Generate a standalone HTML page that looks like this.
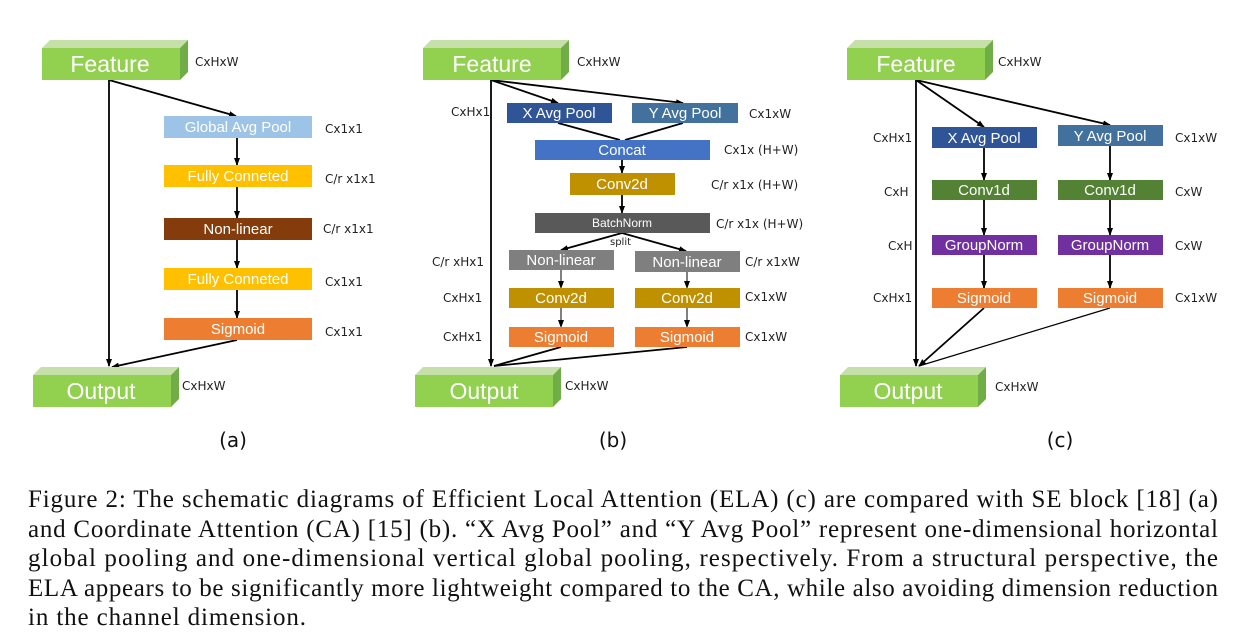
<!DOCTYPE html>
<html><head><meta charset="utf-8"><style>
html,body{margin:0;padding:0;background:#fff;}
svg{display:block;}
.lb{font-family:"DejaVu Sans","Liberation Sans",sans-serif;font-size:12px;fill:#222;}
.bx{font-family:"Liberation Sans","DejaVu Sans",sans-serif;font-size:15px;fill:#fff;text-anchor:middle;}
.big{font-family:"Liberation Sans","DejaVu Sans",sans-serif;font-size:23px;fill:#fff;text-anchor:middle;}
.cap{font-family:"Liberation Serif",serif;font-size:25px;fill:#111;}
.sub{font-family:"DejaVu Sans","Liberation Sans",sans-serif;font-size:20px;fill:#111;text-anchor:middle;}
</style></head><body>
<svg width="1246" height="641" viewBox="0 0 1246 641" xmlns="http://www.w3.org/2000/svg">
<defs>
<marker id="a" markerWidth="8" markerHeight="8" refX="7" refY="4" orient="auto" markerUnits="userSpaceOnUse"><path d="M0,1 L8,4 L0,7 z" fill="#000"/></marker>
<g id="feat"><rect x="0" y="8" width="138" height="32" fill="#92d050"/><path d="M0,8 L8,0 L146,0 L138,8 z" fill="#c5e0a8"/><path d="M138,8 L146,0 L146,32 L138,40 z" fill="#70ad47"/></g>
</defs>
<g stroke="#000" stroke-width="1.8" fill="none">
<line x1="109" y1="80" x2="109" y2="366" marker-end="url(#a)"/>
<line x1="109" y1="80" x2="236" y2="116" marker-end="url(#a)"/>
<line x1="237" y1="340" x2="112" y2="367" marker-end="url(#a)"/>
<line x1="237" y1="138" x2="237" y2="165" marker-end="url(#a)"/>
<line x1="237" y1="187" x2="237" y2="218" marker-end="url(#a)"/>
<line x1="237" y1="240" x2="237" y2="268" marker-end="url(#a)"/>
<line x1="237" y1="290" x2="237" y2="318" marker-end="url(#a)"/>
<line x1="491" y1="80" x2="491" y2="366" marker-end="url(#a)"/>
<line x1="491" y1="80" x2="558" y2="103" marker-end="url(#a)"/>
<line x1="491" y1="80" x2="683" y2="103" marker-end="url(#a)"/>
<line x1="558" y1="123" x2="620" y2="140"/>
<line x1="683" y1="123" x2="625" y2="140"/>
<line x1="622" y1="160" x2="622" y2="173" marker-end="url(#a)"/>
<line x1="622" y1="195" x2="622" y2="213" marker-end="url(#a)"/>
<line x1="622" y1="233" x2="561" y2="250" marker-end="url(#a)"/>
<line x1="622" y1="233" x2="686" y2="251" marker-end="url(#a)"/>
<line x1="561" y1="270" x2="561" y2="288" marker-end="url(#a)" stroke-width="1"/>
<line x1="687" y1="272" x2="687" y2="288" marker-end="url(#a)" stroke-width="1"/>
<line x1="561" y1="308" x2="561" y2="327" marker-end="url(#a)" stroke-width="1"/>
<line x1="687" y1="308" x2="687" y2="327" marker-end="url(#a)" stroke-width="1"/>
<line x1="561" y1="347" x2="494" y2="366"/>
<line x1="687" y1="347" x2="494" y2="366"/>
<line x1="916" y1="80" x2="916" y2="366" marker-end="url(#a)"/>
<line x1="916" y1="80" x2="984" y2="127" marker-end="url(#a)"/>
<line x1="916" y1="80" x2="1110" y2="125" marker-end="url(#a)"/>
<line x1="984" y1="148" x2="984" y2="180" marker-end="url(#a)"/>
<line x1="1110" y1="146" x2="1110" y2="180" marker-end="url(#a)"/>
<line x1="984" y1="200" x2="984" y2="235" marker-end="url(#a)"/>
<line x1="1110" y1="200" x2="1110" y2="235" marker-end="url(#a)"/>
<line x1="984" y1="255" x2="984" y2="288" marker-end="url(#a)"/>
<line x1="1110" y1="255" x2="1110" y2="288" marker-end="url(#a)"/>
<line x1="984" y1="308" x2="919" y2="366" marker-end="url(#a)"/>
<line x1="1110" y1="308" x2="919" y2="366" stroke-width="1.2"/>
</g>
<use href="#feat" x="42" y="40"/><text class="big" x="110" y="72">Feature</text>
<use href="#feat" x="33" y="367"/><text class="big" x="101" y="399">Output</text>
<use href="#feat" x="423" y="40"/><text class="big" x="492" y="72">Feature</text>
<use href="#feat" x="415" y="367"/><text class="big" x="484" y="399">Output</text>
<use href="#feat" x="847" y="40"/><text class="big" x="916" y="72">Feature</text>
<use href="#feat" x="840" y="367"/><text class="big" x="908" y="399">Output</text>
<rect x="164" y="116" width="148" height="22" fill="#9dc3e6"/><text class="bx" x="238" y="132">Global Avg Pool</text>
<rect x="164" y="165" width="148" height="22" fill="#ffc000"/><text class="bx" x="238" y="181">Fully Conneted</text>
<rect x="164" y="218" width="148" height="22" fill="#843c0c"/><text class="bx" x="238" y="234">Non-linear</text>
<rect x="164" y="268" width="148" height="22" fill="#ffc000"/><text class="bx" x="238" y="284">Fully Conneted</text>
<rect x="164" y="318" width="148" height="22" fill="#ed7d31"/><text class="bx" x="238" y="334">Sigmoid</text>
<text class="lb" x="195" y="66">CxHxW</text>
<text class="lb" x="325" y="133">Cx1x1</text>
<text class="lb" x="325" y="183">C/r x1x1</text>
<text class="lb" x="323" y="233">C/r x1x1</text>
<text class="lb" x="325" y="286">Cx1x1</text>
<text class="lb" x="325" y="336">Cx1x1</text>
<text class="lb" x="182" y="390">CxHxW</text>
<rect x="507" y="103" width="105" height="20" fill="#2f5597"/><text class="bx" x="559" y="118">X Avg Pool</text>
<rect x="632" y="103" width="106" height="20" fill="#41719c"/><text class="bx" x="685" y="118">Y Avg Pool</text>
<rect x="535" y="140" width="175" height="20" fill="#4472c4"/><text class="bx" x="622" y="155">Concat</text>
<rect x="570" y="173" width="105" height="22" fill="#bf9000"/><text class="bx" x="622" y="189">Conv2d</text>
<rect x="535" y="213" width="175" height="20" fill="#595959"/><text class="bx" x="622" y="227" style="font-size:12px">BatchNorm</text>
<text class="lb" x="610" y="245" style="font-size:10px">split</text>
<rect x="509" y="250" width="105" height="20" fill="#7f7f7f"/><text class="bx" x="561" y="265">Non-linear</text>
<rect x="635" y="251" width="105" height="21" fill="#7f7f7f"/><text class="bx" x="687" y="267">Non-linear</text>
<rect x="509" y="288" width="105" height="20" fill="#bf9000"/><text class="bx" x="561" y="303">Conv2d</text>
<rect x="635" y="288" width="105" height="20" fill="#bf9000"/><text class="bx" x="687" y="303">Conv2d</text>
<rect x="509" y="327" width="105" height="20" fill="#ed7d31"/><text class="bx" x="561" y="342">Sigmoid</text>
<rect x="635" y="327" width="105" height="20" fill="#ed7d31"/><text class="bx" x="687" y="342">Sigmoid</text>
<text class="lb" x="577" y="66">CxHxW</text>
<text class="lb" x="451" y="116">CxHx1</text>
<text class="lb" x="749" y="118">Cx1xW</text>
<text class="lb" x="724" y="154">Cx1x (H+W)</text>
<text class="lb" x="711" y="189">C/r x1x (H+W)</text>
<text class="lb" x="716" y="228">C/r x1x (H+W)</text>
<text class="lb" x="432" y="266">C/r xHx1</text>
<text class="lb" x="745" y="266">C/r x1xW</text>
<text class="lb" x="443" y="302">CxHx1</text>
<text class="lb" x="745" y="301">Cx1xW</text>
<text class="lb" x="443" y="341">CxHx1</text>
<text class="lb" x="745" y="341">Cx1xW</text>
<text class="lb" x="565" y="390">CxHxW</text>
<rect x="932" y="127" width="105" height="21" fill="#2f5597"/><text class="bx" x="984" y="143">X Avg Pool</text>
<rect x="1058" y="125" width="105" height="21" fill="#41719c"/><text class="bx" x="1110" y="141">Y Avg Pool</text>
<rect x="932" y="180" width="105" height="20" fill="#548235"/><text class="bx" x="984" y="195">Conv1d</text>
<rect x="1058" y="180" width="105" height="20" fill="#548235"/><text class="bx" x="1110" y="195">Conv1d</text>
<rect x="932" y="235" width="105" height="20" fill="#7030a0"/><text class="bx" x="984" y="250">GroupNorm</text>
<rect x="1058" y="235" width="105" height="20" fill="#7030a0"/><text class="bx" x="1110" y="250">GroupNorm</text>
<rect x="932" y="288" width="105" height="20" fill="#ed7d31"/><text class="bx" x="984" y="303">Sigmoid</text>
<rect x="1058" y="288" width="105" height="20" fill="#ed7d31"/><text class="bx" x="1110" y="303">Sigmoid</text>
<text class="lb" x="998" y="66">CxHxW</text>
<text class="lb" x="873" y="142">CxHx1</text>
<text class="lb" x="1175" y="142">Cx1xW</text>
<text class="lb" x="884" y="196">CxH</text>
<text class="lb" x="1175" y="196">CxW</text>
<text class="lb" x="888" y="250">CxH</text>
<text class="lb" x="1175" y="250">CxW</text>
<text class="lb" x="873" y="302">CxHx1</text>
<text class="lb" x="1175" y="302">Cx1xW</text>
<text class="lb" x="995" y="391">CxHxW</text>
<text class="sub" x="233" y="447">(a)</text>
<text class="sub" x="613" y="447">(b)</text>
<text class="sub" x="1060" y="447">(c)</text>
<text class="cap" x="28" y="507" textLength="1190" lengthAdjust="spacing">Figure 2: The schematic diagrams of Efficient Local Attention (ELA) (c) are compared with SE block [18] (a)</text>
<text class="cap" x="28" y="537" textLength="1190" lengthAdjust="spacing">and Coordinate Attention (CA) [15] (b).  “X Avg Pool” and “Y Avg Pool” represent one-dimensional horizontal</text>
<text class="cap" x="28" y="566" textLength="1190" lengthAdjust="spacing">global pooling and one-dimensional vertical global pooling, respectively.  From a structural perspective, the</text>
<text class="cap" x="28" y="596" textLength="1190" lengthAdjust="spacing">ELA appears to be significantly more lightweight compared to the CA, while also avoiding dimension reduction</text>
<text class="cap" x="28" y="625" textLength="278" lengthAdjust="spacing">in the channel dimension.</text>
</svg>
</body></html>
